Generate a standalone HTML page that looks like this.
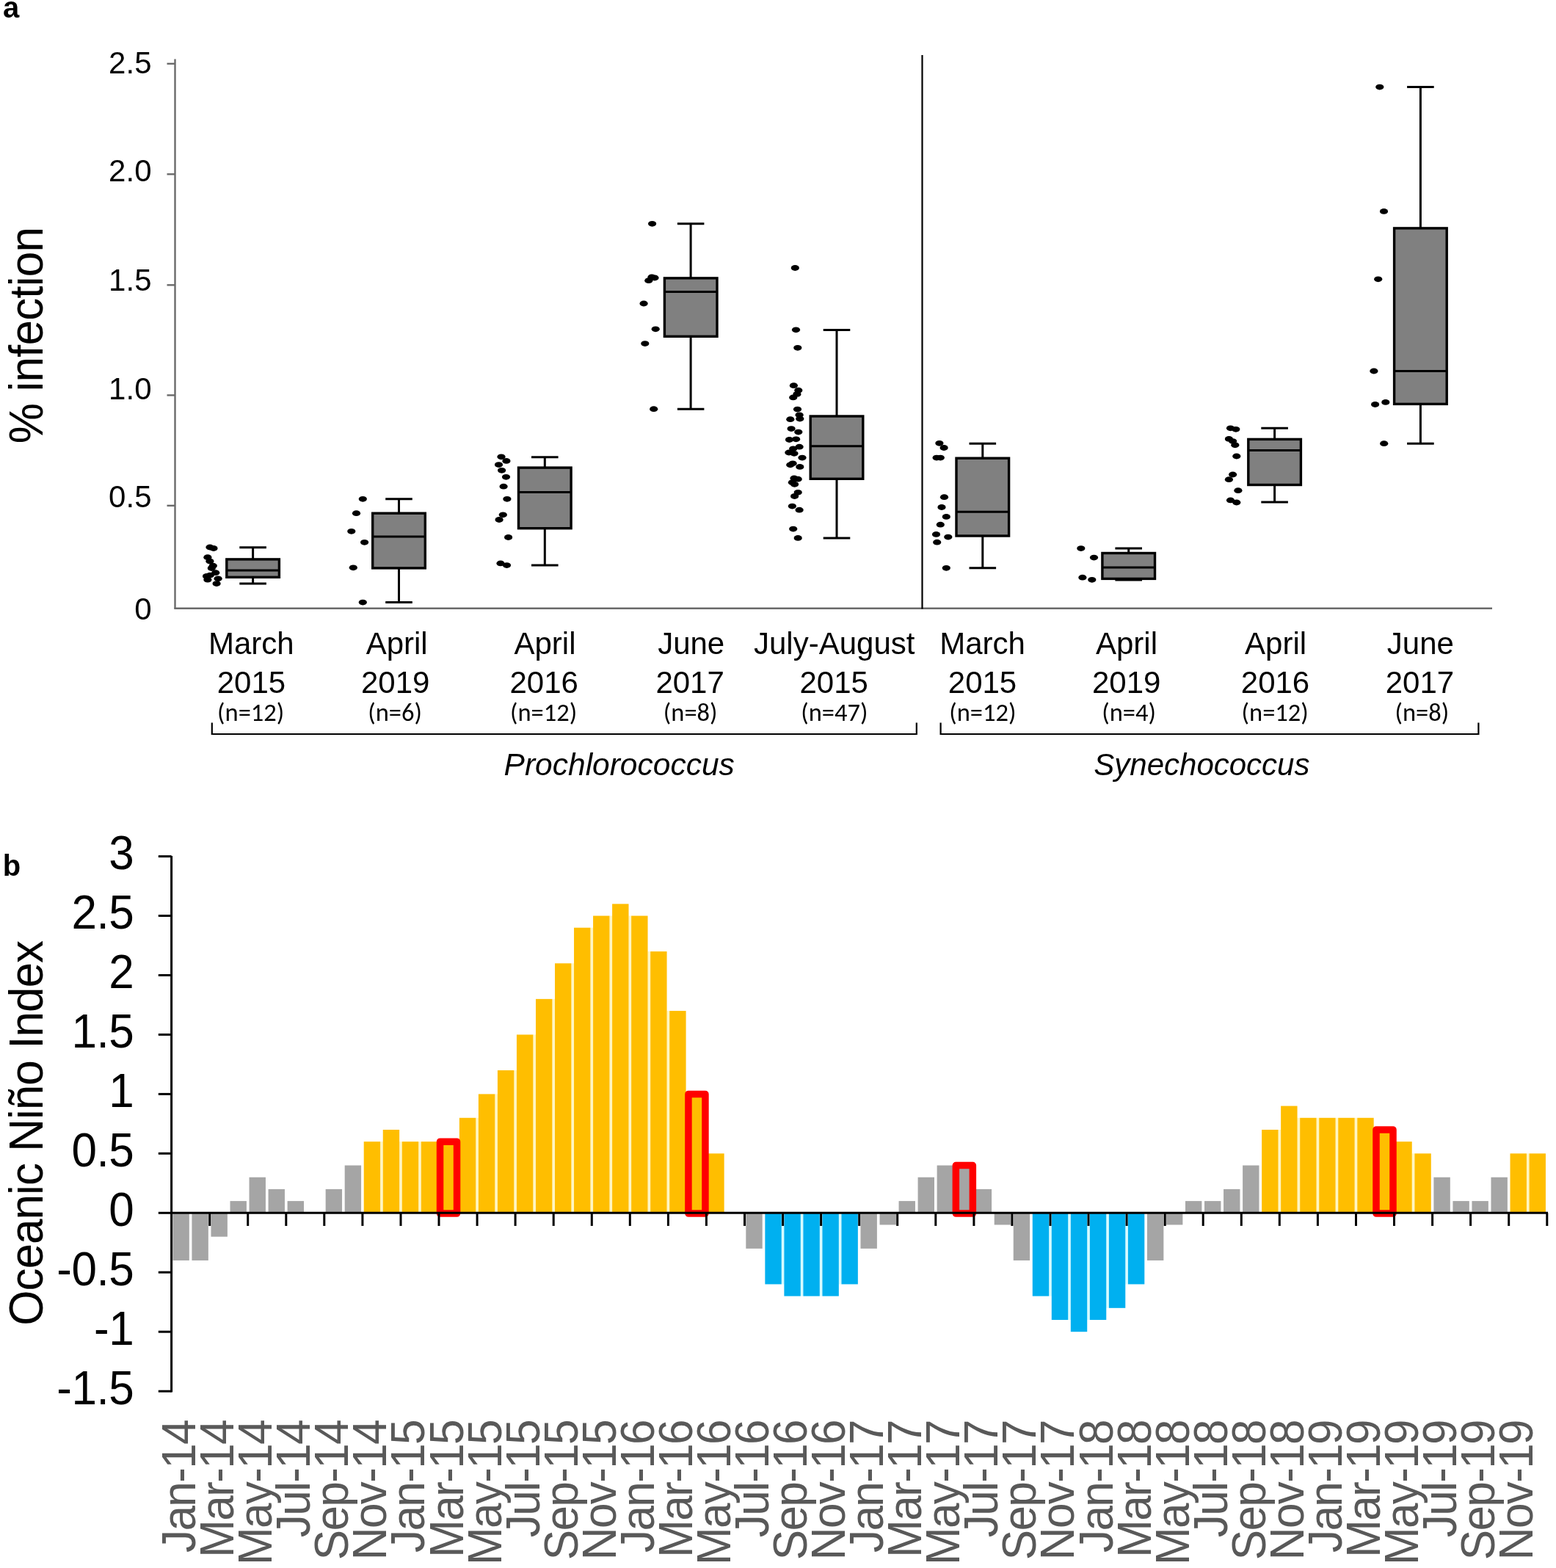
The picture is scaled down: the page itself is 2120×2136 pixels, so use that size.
<!DOCTYPE html>
<html><head><meta charset="utf-8"><title>Figure</title>
<style>html,body{margin:0;padding:0;background:#fff;}svg{display:block;}</style></head>
<body><svg width="2120" height="2136" viewBox="0 0 2120 2136">
<rect width="2120" height="2136" fill="#fff"/>
<text x="4.0" y="24.0" font-family="'Liberation Sans',Arial,sans-serif" font-size="40" text-anchor="start" fill="#000" font-weight="bold">a</text>
<line x1="238.5" y1="80.5" x2="238.5" y2="829.5" stroke="#6a6a6a" stroke-width="2.4"/>
<line x1="227.5" y1="86.8" x2="238.5" y2="86.8" stroke="#6a6a6a" stroke-width="2.4"/>
<line x1="227.5" y1="237.3" x2="238.5" y2="237.3" stroke="#6a6a6a" stroke-width="2.4"/>
<line x1="227.5" y1="388.3" x2="238.5" y2="388.3" stroke="#6a6a6a" stroke-width="2.4"/>
<line x1="227.5" y1="538.4" x2="238.5" y2="538.4" stroke="#6a6a6a" stroke-width="2.4"/>
<line x1="227.5" y1="688.8" x2="238.5" y2="688.8" stroke="#6a6a6a" stroke-width="2.4"/>
<line x1="237.4" y1="828.8" x2="2033" y2="828.8" stroke="#6a6a6a" stroke-width="2.4"/>
<line x1="1256.5" y1="75" x2="1256.5" y2="829.5" stroke="#000" stroke-width="2.2"/>
<text x="206.5" y="100.0" font-family="'Liberation Sans',Arial,sans-serif" font-size="42" text-anchor="end" fill="#000">2.5</text>
<text x="206.5" y="247.0" font-family="'Liberation Sans',Arial,sans-serif" font-size="42" text-anchor="end" fill="#000">2.0</text>
<text x="206.5" y="396.0" font-family="'Liberation Sans',Arial,sans-serif" font-size="42" text-anchor="end" fill="#000">1.5</text>
<text x="206.5" y="544.0" font-family="'Liberation Sans',Arial,sans-serif" font-size="42" text-anchor="end" fill="#000">1.0</text>
<text x="206.5" y="691.0" font-family="'Liberation Sans',Arial,sans-serif" font-size="42" text-anchor="end" fill="#000">0.5</text>
<text x="206.5" y="844.0" font-family="'Liberation Sans',Arial,sans-serif" font-size="42" text-anchor="end" fill="#000">0</text>
<text transform="translate(57.90,457.10) rotate(-90) scale(1,1.05)" font-family="'Liberation Sans',Arial,sans-serif" font-size="62" text-anchor="middle" fill="#000" letter-spacing="-0.8">% infection</text>
<line x1="344.6" y1="745.7" x2="344.6" y2="761.9" stroke="#000" stroke-width="3"/>
<line x1="344.6" y1="786.3" x2="344.6" y2="795.1" stroke="#000" stroke-width="3"/>
<line x1="326.3" y1="745.7" x2="362.9" y2="745.7" stroke="#000" stroke-width="3"/>
<line x1="326.3" y1="795.1" x2="362.9" y2="795.1" stroke="#000" stroke-width="3"/>
<rect x="308.8" y="761.9" width="71.6" height="24.4" fill="#808080" stroke="#000" stroke-width="3.4"/>
<line x1="308.8" y1="777.1" x2="380.4" y2="777.1" stroke="#000" stroke-width="3"/>
<line x1="543.5" y1="679.8" x2="543.5" y2="699.2" stroke="#000" stroke-width="3"/>
<line x1="543.5" y1="773.9" x2="543.5" y2="820.6" stroke="#000" stroke-width="3"/>
<line x1="525.2" y1="679.8" x2="561.8" y2="679.8" stroke="#000" stroke-width="3"/>
<line x1="525.2" y1="820.6" x2="561.8" y2="820.6" stroke="#000" stroke-width="3"/>
<rect x="507.7" y="699.2" width="71.6" height="74.7" fill="#808080" stroke="#000" stroke-width="3.4"/>
<line x1="507.7" y1="731.1" x2="579.2" y2="731.1" stroke="#000" stroke-width="3"/>
<line x1="742.3" y1="622.7" x2="742.3" y2="637.1" stroke="#000" stroke-width="3"/>
<line x1="742.3" y1="719.7" x2="742.3" y2="770.1" stroke="#000" stroke-width="3"/>
<line x1="724.0" y1="622.7" x2="760.6" y2="622.7" stroke="#000" stroke-width="3"/>
<line x1="724.0" y1="770.1" x2="760.6" y2="770.1" stroke="#000" stroke-width="3"/>
<rect x="706.5" y="637.1" width="71.6" height="82.6" fill="#808080" stroke="#000" stroke-width="3.4"/>
<line x1="706.5" y1="670.6" x2="778.1" y2="670.6" stroke="#000" stroke-width="3"/>
<line x1="941.1" y1="304.8" x2="941.1" y2="378.9" stroke="#000" stroke-width="3"/>
<line x1="941.1" y1="458.3" x2="941.1" y2="557.2" stroke="#000" stroke-width="3"/>
<line x1="922.9" y1="304.8" x2="959.4" y2="304.8" stroke="#000" stroke-width="3"/>
<line x1="922.9" y1="557.2" x2="959.4" y2="557.2" stroke="#000" stroke-width="3"/>
<rect x="905.4" y="378.9" width="71.6" height="79.4" fill="#808080" stroke="#000" stroke-width="3.4"/>
<line x1="905.4" y1="397.6" x2="976.9" y2="397.6" stroke="#000" stroke-width="3"/>
<line x1="1140.0" y1="449.5" x2="1140.0" y2="567.0" stroke="#000" stroke-width="3"/>
<line x1="1140.0" y1="652.3" x2="1140.0" y2="732.9" stroke="#000" stroke-width="3"/>
<line x1="1121.7" y1="449.5" x2="1158.3" y2="449.5" stroke="#000" stroke-width="3"/>
<line x1="1121.7" y1="732.9" x2="1158.3" y2="732.9" stroke="#000" stroke-width="3"/>
<rect x="1104.2" y="567.0" width="71.6" height="85.3" fill="#808080" stroke="#000" stroke-width="3.4"/>
<line x1="1104.2" y1="607.7" x2="1175.8" y2="607.7" stroke="#000" stroke-width="3"/>
<line x1="1338.8" y1="604.2" x2="1338.8" y2="624.2" stroke="#000" stroke-width="3"/>
<line x1="1338.8" y1="730.0" x2="1338.8" y2="773.8" stroke="#000" stroke-width="3"/>
<line x1="1320.5" y1="604.2" x2="1357.1" y2="604.2" stroke="#000" stroke-width="3"/>
<line x1="1320.5" y1="773.8" x2="1357.1" y2="773.8" stroke="#000" stroke-width="3"/>
<rect x="1303.0" y="624.2" width="71.6" height="105.8" fill="#808080" stroke="#000" stroke-width="3.4"/>
<line x1="1303.0" y1="697.2" x2="1374.6" y2="697.2" stroke="#000" stroke-width="3"/>
<line x1="1537.7" y1="747.1" x2="1537.7" y2="753.5" stroke="#000" stroke-width="3"/>
<line x1="1537.7" y1="788.4" x2="1537.7" y2="790.0" stroke="#000" stroke-width="3"/>
<line x1="1519.4" y1="747.1" x2="1556.0" y2="747.1" stroke="#000" stroke-width="3"/>
<line x1="1519.4" y1="790.0" x2="1556.0" y2="790.0" stroke="#000" stroke-width="3"/>
<rect x="1501.9" y="753.5" width="71.6" height="34.9" fill="#808080" stroke="#000" stroke-width="3.4"/>
<line x1="1501.9" y1="773.1" x2="1573.5" y2="773.1" stroke="#000" stroke-width="3"/>
<line x1="1736.6" y1="583.3" x2="1736.6" y2="598.4" stroke="#000" stroke-width="3"/>
<line x1="1736.6" y1="660.5" x2="1736.6" y2="684.1" stroke="#000" stroke-width="3"/>
<line x1="1718.3" y1="583.3" x2="1754.9" y2="583.3" stroke="#000" stroke-width="3"/>
<line x1="1718.3" y1="684.1" x2="1754.9" y2="684.1" stroke="#000" stroke-width="3"/>
<rect x="1700.8" y="598.4" width="71.6" height="62.1" fill="#808080" stroke="#000" stroke-width="3.4"/>
<line x1="1700.8" y1="613.6" x2="1772.4" y2="613.6" stroke="#000" stroke-width="3"/>
<line x1="1935.4" y1="118.6" x2="1935.4" y2="310.9" stroke="#000" stroke-width="3"/>
<line x1="1935.4" y1="550.4" x2="1935.4" y2="604.2" stroke="#000" stroke-width="3"/>
<line x1="1917.1" y1="118.6" x2="1953.7" y2="118.6" stroke="#000" stroke-width="3"/>
<line x1="1917.1" y1="604.2" x2="1953.7" y2="604.2" stroke="#000" stroke-width="3"/>
<rect x="1899.6" y="310.9" width="71.6" height="239.5" fill="#808080" stroke="#000" stroke-width="3.4"/>
<line x1="1899.6" y1="505.5" x2="1971.2" y2="505.5" stroke="#000" stroke-width="3"/>
<ellipse cx="286" cy="745.5" rx="5.6" ry="3.9"/>
<ellipse cx="291" cy="747" rx="5.6" ry="3.9"/>
<ellipse cx="282.9" cy="759.2" rx="5.6" ry="3.9"/>
<ellipse cx="285.9" cy="764.6" rx="5.6" ry="3.9"/>
<ellipse cx="290.3" cy="770.7" rx="5.6" ry="3.9"/>
<ellipse cx="288.3" cy="774" rx="5.6" ry="3.9"/>
<ellipse cx="293.7" cy="780.2" rx="5.6" ry="3.9"/>
<ellipse cx="286.3" cy="783.6" rx="5.6" ry="3.9"/>
<ellipse cx="281.5" cy="785" rx="5.6" ry="3.9"/>
<ellipse cx="282.9" cy="789.7" rx="5.6" ry="3.9"/>
<ellipse cx="297.1" cy="788.3" rx="5.6" ry="3.9"/>
<ellipse cx="295.1" cy="795.1" rx="5.6" ry="3.9"/>
<ellipse cx="494.3" cy="679.8" rx="5.6" ry="3.9"/>
<ellipse cx="485.5" cy="699.2" rx="5.6" ry="3.9"/>
<ellipse cx="478.8" cy="723.8" rx="5.6" ry="3.9"/>
<ellipse cx="496.6" cy="738.8" rx="5.6" ry="3.9"/>
<ellipse cx="481.3" cy="773.3" rx="5.6" ry="3.9"/>
<ellipse cx="494.3" cy="820.6" rx="5.6" ry="3.9"/>
<ellipse cx="683" cy="622.3" rx="5.6" ry="3.9"/>
<ellipse cx="689.9" cy="627.9" rx="5.6" ry="3.9"/>
<ellipse cx="679.5" cy="633.1" rx="5.6" ry="3.9"/>
<ellipse cx="683.6" cy="640.8" rx="5.6" ry="3.9"/>
<ellipse cx="689.5" cy="649.8" rx="5.6" ry="3.9"/>
<ellipse cx="686.1" cy="662.7" rx="5.6" ry="3.9"/>
<ellipse cx="690.9" cy="679.8" rx="5.6" ry="3.9"/>
<ellipse cx="685.3" cy="701.3" rx="5.6" ry="3.9"/>
<ellipse cx="680.1" cy="708" rx="5.6" ry="3.9"/>
<ellipse cx="692.6" cy="732" rx="5.6" ry="3.9"/>
<ellipse cx="682" cy="767.4" rx="5.6" ry="3.9"/>
<ellipse cx="690.5" cy="770.1" rx="5.6" ry="3.9"/>
<ellipse cx="888.6" cy="304.8" rx="5.6" ry="3.9"/>
<ellipse cx="888" cy="377.5" rx="5.6" ry="3.9"/>
<ellipse cx="892" cy="378.5" rx="5.6" ry="3.9"/>
<ellipse cx="883.8" cy="382.2" rx="5.6" ry="3.9"/>
<ellipse cx="877.1" cy="413.5" rx="5.6" ry="3.9"/>
<ellipse cx="893.2" cy="448.3" rx="5.6" ry="3.9"/>
<ellipse cx="878.8" cy="468.1" rx="5.6" ry="3.9"/>
<ellipse cx="890.7" cy="557.2" rx="5.6" ry="3.9"/>
<ellipse cx="1083.3" cy="365" rx="5.6" ry="3.9"/>
<ellipse cx="1084.5" cy="449.3" rx="5.6" ry="3.9"/>
<ellipse cx="1086.8" cy="473.8" rx="5.6" ry="3.9"/>
<ellipse cx="1081.4" cy="525.2" rx="5.6" ry="3.9"/>
<ellipse cx="1087.8" cy="531.7" rx="5.6" ry="3.9"/>
<ellipse cx="1085.9" cy="536.9" rx="5.6" ry="3.9"/>
<ellipse cx="1080.7" cy="541.4" rx="5.6" ry="3.9"/>
<ellipse cx="1086.5" cy="557.6" rx="5.6" ry="3.9"/>
<ellipse cx="1089.1" cy="565.3" rx="5.6" ry="3.9"/>
<ellipse cx="1076.8" cy="571.2" rx="5.6" ry="3.9"/>
<ellipse cx="1089.8" cy="570.5" rx="5.6" ry="3.9"/>
<ellipse cx="1078.1" cy="584.1" rx="5.6" ry="3.9"/>
<ellipse cx="1087.8" cy="588.6" rx="5.6" ry="3.9"/>
<ellipse cx="1075.5" cy="599" rx="5.6" ry="3.9"/>
<ellipse cx="1084.6" cy="598.3" rx="5.6" ry="3.9"/>
<ellipse cx="1089.1" cy="608.7" rx="5.6" ry="3.9"/>
<ellipse cx="1080.7" cy="611.3" rx="5.6" ry="3.9"/>
<ellipse cx="1074.9" cy="616.5" rx="5.6" ry="3.9"/>
<ellipse cx="1082" cy="617.8" rx="5.6" ry="3.9"/>
<ellipse cx="1093" cy="623.6" rx="5.6" ry="3.9"/>
<ellipse cx="1076.8" cy="633.3" rx="5.6" ry="3.9"/>
<ellipse cx="1080.1" cy="631.3" rx="5.6" ry="3.9"/>
<ellipse cx="1089.8" cy="635.9" rx="5.6" ry="3.9"/>
<ellipse cx="1082" cy="651.4" rx="5.6" ry="3.9"/>
<ellipse cx="1087.2" cy="652.7" rx="5.6" ry="3.9"/>
<ellipse cx="1079.4" cy="657.2" rx="5.6" ry="3.9"/>
<ellipse cx="1082.6" cy="659.8" rx="5.6" ry="3.9"/>
<ellipse cx="1087.2" cy="670.8" rx="5.6" ry="3.9"/>
<ellipse cx="1082.6" cy="676" rx="5.6" ry="3.9"/>
<ellipse cx="1079.4" cy="689.6" rx="5.6" ry="3.9"/>
<ellipse cx="1089.1" cy="694.7" rx="5.6" ry="3.9"/>
<ellipse cx="1080.7" cy="720.6" rx="5.6" ry="3.9"/>
<ellipse cx="1087.2" cy="732.9" rx="5.6" ry="3.9"/>
<ellipse cx="1279.9" cy="603.8" rx="5.6" ry="3.9"/>
<ellipse cx="1286.1" cy="610" rx="5.6" ry="3.9"/>
<ellipse cx="1276.1" cy="623.6" rx="5.6" ry="3.9"/>
<ellipse cx="1281.3" cy="623.6" rx="5.6" ry="3.9"/>
<ellipse cx="1286.5" cy="677.2" rx="5.6" ry="3.9"/>
<ellipse cx="1283" cy="691" rx="5.6" ry="3.9"/>
<ellipse cx="1289.3" cy="703.9" rx="5.6" ry="3.9"/>
<ellipse cx="1281.3" cy="714.7" rx="5.6" ry="3.9"/>
<ellipse cx="1275.5" cy="727.9" rx="5.6" ry="3.9"/>
<ellipse cx="1291.8" cy="731.6" rx="5.6" ry="3.9"/>
<ellipse cx="1276.7" cy="738.7" rx="5.6" ry="3.9"/>
<ellipse cx="1289.3" cy="773.8" rx="5.6" ry="3.9"/>
<ellipse cx="1472.8" cy="747.1" rx="5.6" ry="3.9"/>
<ellipse cx="1490.5" cy="759.6" rx="5.6" ry="3.9"/>
<ellipse cx="1474.9" cy="786.7" rx="5.6" ry="3.9"/>
<ellipse cx="1487.8" cy="789.8" rx="5.6" ry="3.9"/>
<ellipse cx="1676.5" cy="583.3" rx="5.6" ry="3.9"/>
<ellipse cx="1683.8" cy="584.8" rx="5.6" ry="3.9"/>
<ellipse cx="1674.4" cy="597.9" rx="5.6" ry="3.9"/>
<ellipse cx="1679.6" cy="601.1" rx="5.6" ry="3.9"/>
<ellipse cx="1682.8" cy="606.3" rx="5.6" ry="3.9"/>
<ellipse cx="1684.8" cy="621.5" rx="5.6" ry="3.9"/>
<ellipse cx="1679.6" cy="646.5" rx="5.6" ry="3.9"/>
<ellipse cx="1674.4" cy="653.2" rx="5.6" ry="3.9"/>
<ellipse cx="1686.9" cy="668.2" rx="5.6" ry="3.9"/>
<ellipse cx="1676.5" cy="681.4" rx="5.6" ry="3.9"/>
<ellipse cx="1684.8" cy="684.5" rx="5.6" ry="3.9"/>
<ellipse cx="1879.8" cy="118.6" rx="5.6" ry="3.9"/>
<ellipse cx="1885.5" cy="287.9" rx="5.6" ry="3.9"/>
<ellipse cx="1877.7" cy="380.3" rx="5.6" ry="3.9"/>
<ellipse cx="1871.9" cy="505.5" rx="5.6" ry="3.9"/>
<ellipse cx="1873.6" cy="551" rx="5.6" ry="3.9"/>
<ellipse cx="1887.8" cy="547.9" rx="5.6" ry="3.9"/>
<ellipse cx="1885.7" cy="604.2" rx="5.6" ry="3.9"/>
<text x="342.3" y="891.0" font-family="'Liberation Sans',Arial,sans-serif" font-size="42" text-anchor="middle" fill="#000">March</text>
<text x="342.4" y="944.3" font-family="'Liberation Sans',Arial,sans-serif" font-size="42" text-anchor="middle" fill="#000">2015</text>
<text x="341.7" y="981.7" font-family="Carlito,Calibri,'Liberation Sans',sans-serif" font-size="34.5" text-anchor="middle" fill="#000" textLength="91.22" lengthAdjust="spacingAndGlyphs">(n=12)</text>
<text x="540.7" y="891.0" font-family="'Liberation Sans',Arial,sans-serif" font-size="42" text-anchor="middle" fill="#000">April</text>
<text x="538.7" y="944.3" font-family="'Liberation Sans',Arial,sans-serif" font-size="42" text-anchor="middle" fill="#000">2019</text>
<text x="538.1" y="981.7" font-family="Carlito,Calibri,'Liberation Sans',sans-serif" font-size="34.5" text-anchor="middle" fill="#000" textLength="73.73" lengthAdjust="spacingAndGlyphs">(n=6)</text>
<text x="742.5" y="891.0" font-family="'Liberation Sans',Arial,sans-serif" font-size="42" text-anchor="middle" fill="#000">April</text>
<text x="741.2" y="944.3" font-family="'Liberation Sans',Arial,sans-serif" font-size="42" text-anchor="middle" fill="#000">2016</text>
<text x="740.6" y="981.7" font-family="Carlito,Calibri,'Liberation Sans',sans-serif" font-size="34.5" text-anchor="middle" fill="#000" textLength="91.22" lengthAdjust="spacingAndGlyphs">(n=12)</text>
<text x="941.7" y="891.0" font-family="'Liberation Sans',Arial,sans-serif" font-size="42" text-anchor="middle" fill="#000">June</text>
<text x="940.1" y="944.3" font-family="'Liberation Sans',Arial,sans-serif" font-size="42" text-anchor="middle" fill="#000">2017</text>
<text x="940.7" y="981.7" font-family="Carlito,Calibri,'Liberation Sans',sans-serif" font-size="34.5" text-anchor="middle" fill="#000" textLength="73.73" lengthAdjust="spacingAndGlyphs">(n=8)</text>
<text x="1136.7" y="891.0" font-family="'Liberation Sans',Arial,sans-serif" font-size="42" text-anchor="middle" fill="#000">July-August</text>
<text x="1136.2" y="944.3" font-family="'Liberation Sans',Arial,sans-serif" font-size="42" text-anchor="middle" fill="#000">2015</text>
<text x="1136.8" y="981.7" font-family="Carlito,Calibri,'Liberation Sans',sans-serif" font-size="34.5" text-anchor="middle" fill="#000" textLength="91.22" lengthAdjust="spacingAndGlyphs">(n=47)</text>
<text x="1338.5" y="891.0" font-family="'Liberation Sans',Arial,sans-serif" font-size="42" text-anchor="middle" fill="#000">March</text>
<text x="1338.5" y="944.3" font-family="'Liberation Sans',Arial,sans-serif" font-size="42" text-anchor="middle" fill="#000">2015</text>
<text x="1338.9" y="981.7" font-family="Carlito,Calibri,'Liberation Sans',sans-serif" font-size="34.5" text-anchor="middle" fill="#000" textLength="91.22" lengthAdjust="spacingAndGlyphs">(n=12)</text>
<text x="1535.0" y="891.0" font-family="'Liberation Sans',Arial,sans-serif" font-size="42" text-anchor="middle" fill="#000">April</text>
<text x="1534.7" y="944.3" font-family="'Liberation Sans',Arial,sans-serif" font-size="42" text-anchor="middle" fill="#000">2019</text>
<text x="1538.1" y="981.7" font-family="Carlito,Calibri,'Liberation Sans',sans-serif" font-size="34.5" text-anchor="middle" fill="#000" textLength="73.73" lengthAdjust="spacingAndGlyphs">(n=4)</text>
<text x="1738.1" y="891.0" font-family="'Liberation Sans',Arial,sans-serif" font-size="42" text-anchor="middle" fill="#000">April</text>
<text x="1737.5" y="944.3" font-family="'Liberation Sans',Arial,sans-serif" font-size="42" text-anchor="middle" fill="#000">2016</text>
<text x="1737.2" y="981.7" font-family="Carlito,Calibri,'Liberation Sans',sans-serif" font-size="34.5" text-anchor="middle" fill="#000" textLength="91.22" lengthAdjust="spacingAndGlyphs">(n=12)</text>
<text x="1935.4" y="891.0" font-family="'Liberation Sans',Arial,sans-serif" font-size="42" text-anchor="middle" fill="#000">June</text>
<text x="1934.4" y="944.3" font-family="'Liberation Sans',Arial,sans-serif" font-size="42" text-anchor="middle" fill="#000">2017</text>
<text x="1937.3" y="981.7" font-family="Carlito,Calibri,'Liberation Sans',sans-serif" font-size="34.5" text-anchor="middle" fill="#000" textLength="73.73" lengthAdjust="spacingAndGlyphs">(n=8)</text>
<path d="M288.8,984.5 V1000 H1248.8 V984.5" fill="none" stroke="#000" stroke-width="2.2"/>
<path d="M1281.6,984.5 V1000 H2014.4 V984.5" fill="none" stroke="#000" stroke-width="2.2"/>
<text x="843.7" y="1056.4" font-family="'Liberation Sans',Arial,sans-serif" font-size="42.5" text-anchor="middle" fill="#000" font-style="italic">Prochlorococcus</text>
<text x="1637.4" y="1056.4" font-family="'Liberation Sans',Arial,sans-serif" font-size="42" text-anchor="middle" fill="#000" font-style="italic">Synechococcus</text>
<text x="3.8" y="1192.7" font-family="'Liberation Sans',Arial,sans-serif" font-size="40" text-anchor="start" fill="#000" font-weight="bold">b</text>
<rect x="518.12" y="1555.16" width="3.63" height="97.14" fill="#FFF6C2"/>
<rect x="544.15" y="1555.16" width="3.63" height="97.14" fill="#FFF6C2"/>
<rect x="570.18" y="1555.16" width="3.63" height="97.14" fill="#FFF6C2"/>
<rect x="596.21" y="1555.16" width="3.63" height="97.14" fill="#FFF6C2"/>
<rect x="622.24" y="1555.16" width="3.63" height="97.14" fill="#FFF6C2"/>
<rect x="648.27" y="1522.78" width="3.63" height="129.52" fill="#FFF6C2"/>
<rect x="674.30" y="1490.40" width="3.63" height="161.90" fill="#FFF6C2"/>
<rect x="700.33" y="1458.02" width="3.63" height="194.28" fill="#FFF6C2"/>
<rect x="726.36" y="1409.45" width="3.63" height="242.85" fill="#FFF6C2"/>
<rect x="752.39" y="1360.88" width="3.63" height="291.42" fill="#FFF6C2"/>
<rect x="778.42" y="1312.31" width="3.63" height="339.99" fill="#FFF6C2"/>
<rect x="804.45" y="1263.74" width="3.63" height="388.56" fill="#FFF6C2"/>
<rect x="830.48" y="1247.55" width="3.63" height="404.75" fill="#FFF6C2"/>
<rect x="856.51" y="1247.55" width="3.63" height="404.75" fill="#FFF6C2"/>
<rect x="882.54" y="1296.12" width="3.63" height="356.18" fill="#FFF6C2"/>
<rect x="908.57" y="1377.07" width="3.63" height="275.23" fill="#FFF6C2"/>
<rect x="934.60" y="1490.40" width="3.63" height="161.90" fill="#FFF6C2"/>
<rect x="960.63" y="1571.35" width="3.63" height="80.95" fill="#FFF6C2"/>
<rect x="1064.75" y="1652.30" width="3.63" height="97.14" fill="#D6FBFF"/>
<rect x="1090.78" y="1652.30" width="3.63" height="113.33" fill="#D6FBFF"/>
<rect x="1116.81" y="1652.30" width="3.63" height="113.33" fill="#D6FBFF"/>
<rect x="1142.84" y="1652.30" width="3.63" height="97.14" fill="#D6FBFF"/>
<rect x="1429.16" y="1652.30" width="3.63" height="113.33" fill="#D6FBFF"/>
<rect x="1455.19" y="1652.30" width="3.63" height="145.71" fill="#D6FBFF"/>
<rect x="1481.22" y="1652.30" width="3.63" height="145.71" fill="#D6FBFF"/>
<rect x="1507.26" y="1652.30" width="3.63" height="129.52" fill="#D6FBFF"/>
<rect x="1533.29" y="1652.30" width="3.63" height="97.14" fill="#D6FBFF"/>
<rect x="1741.53" y="1538.97" width="3.63" height="113.33" fill="#FFF6C2"/>
<rect x="1767.56" y="1522.78" width="3.63" height="129.52" fill="#FFF6C2"/>
<rect x="1793.59" y="1522.78" width="3.63" height="129.52" fill="#FFF6C2"/>
<rect x="1819.62" y="1522.78" width="3.63" height="129.52" fill="#FFF6C2"/>
<rect x="1845.64" y="1522.78" width="3.63" height="129.52" fill="#FFF6C2"/>
<rect x="1871.67" y="1538.97" width="3.63" height="113.33" fill="#FFF6C2"/>
<rect x="1897.70" y="1555.16" width="3.63" height="97.14" fill="#FFF6C2"/>
<rect x="1923.74" y="1571.35" width="3.63" height="80.95" fill="#FFF6C2"/>
<rect x="2079.91" y="1571.35" width="3.63" height="80.95" fill="#FFF6C2"/>
<rect x="235.42" y="1652.30" width="22.4" height="64.76" fill="#A5A5A5"/>
<rect x="261.44" y="1652.30" width="22.4" height="64.76" fill="#A5A5A5"/>
<rect x="287.48" y="1652.30" width="22.4" height="32.38" fill="#A5A5A5"/>
<rect x="313.50" y="1636.11" width="22.4" height="16.19" fill="#A5A5A5"/>
<rect x="339.54" y="1603.73" width="22.4" height="48.57" fill="#A5A5A5"/>
<rect x="365.56" y="1619.92" width="22.4" height="32.38" fill="#A5A5A5"/>
<rect x="391.59" y="1636.11" width="22.4" height="16.19" fill="#A5A5A5"/>
<rect x="443.66" y="1619.92" width="22.4" height="32.38" fill="#A5A5A5"/>
<rect x="469.69" y="1587.54" width="22.4" height="64.76" fill="#A5A5A5"/>
<rect x="495.71" y="1555.16" width="22.4" height="97.14" fill="#FFBE00"/>
<rect x="521.75" y="1538.97" width="22.4" height="113.33" fill="#FFBE00"/>
<rect x="547.77" y="1555.16" width="22.4" height="97.14" fill="#FFBE00"/>
<rect x="573.80" y="1555.16" width="22.4" height="97.14" fill="#FFBE00"/>
<rect x="599.83" y="1555.16" width="22.4" height="97.14" fill="#FFBE00"/>
<rect x="625.87" y="1522.78" width="22.4" height="129.52" fill="#FFBE00"/>
<rect x="651.89" y="1490.40" width="22.4" height="161.90" fill="#FFBE00"/>
<rect x="677.92" y="1458.02" width="22.4" height="194.28" fill="#FFBE00"/>
<rect x="703.95" y="1409.45" width="22.4" height="242.85" fill="#FFBE00"/>
<rect x="729.99" y="1360.88" width="22.4" height="291.42" fill="#FFBE00"/>
<rect x="756.01" y="1312.31" width="22.4" height="339.99" fill="#FFBE00"/>
<rect x="782.04" y="1263.74" width="22.4" height="388.56" fill="#FFBE00"/>
<rect x="808.08" y="1247.55" width="22.4" height="404.75" fill="#FFBE00"/>
<rect x="834.11" y="1231.36" width="22.4" height="420.94" fill="#FFBE00"/>
<rect x="860.13" y="1247.55" width="22.4" height="404.75" fill="#FFBE00"/>
<rect x="886.16" y="1296.12" width="22.4" height="356.18" fill="#FFBE00"/>
<rect x="912.20" y="1377.07" width="22.4" height="275.23" fill="#FFBE00"/>
<rect x="938.23" y="1490.40" width="22.4" height="161.90" fill="#FFBE00"/>
<rect x="964.25" y="1571.35" width="22.4" height="80.95" fill="#FFBE00"/>
<rect x="1016.32" y="1652.30" width="22.4" height="48.57" fill="#A5A5A5"/>
<rect x="1042.35" y="1652.30" width="22.4" height="97.14" fill="#00B0F0"/>
<rect x="1068.38" y="1652.30" width="22.4" height="113.33" fill="#00B0F0"/>
<rect x="1094.40" y="1652.30" width="22.4" height="113.33" fill="#00B0F0"/>
<rect x="1120.43" y="1652.30" width="22.4" height="113.33" fill="#00B0F0"/>
<rect x="1146.46" y="1652.30" width="22.4" height="97.14" fill="#00B0F0"/>
<rect x="1172.49" y="1652.30" width="22.4" height="48.57" fill="#A5A5A5"/>
<rect x="1198.52" y="1652.30" width="22.4" height="16.19" fill="#A5A5A5"/>
<rect x="1224.56" y="1636.11" width="22.4" height="16.19" fill="#A5A5A5"/>
<rect x="1250.58" y="1603.73" width="22.4" height="48.57" fill="#A5A5A5"/>
<rect x="1276.62" y="1587.54" width="22.4" height="64.76" fill="#A5A5A5"/>
<rect x="1302.64" y="1587.54" width="22.4" height="64.76" fill="#A5A5A5"/>
<rect x="1328.67" y="1619.92" width="22.4" height="32.38" fill="#A5A5A5"/>
<rect x="1354.70" y="1652.30" width="22.4" height="16.19" fill="#A5A5A5"/>
<rect x="1380.73" y="1652.30" width="22.4" height="64.76" fill="#A5A5A5"/>
<rect x="1406.76" y="1652.30" width="22.4" height="113.33" fill="#00B0F0"/>
<rect x="1432.79" y="1652.30" width="22.4" height="145.71" fill="#00B0F0"/>
<rect x="1458.82" y="1652.30" width="22.4" height="161.90" fill="#00B0F0"/>
<rect x="1484.86" y="1652.30" width="22.4" height="145.71" fill="#00B0F0"/>
<rect x="1510.88" y="1652.30" width="22.4" height="129.52" fill="#00B0F0"/>
<rect x="1536.91" y="1652.30" width="22.4" height="97.14" fill="#00B0F0"/>
<rect x="1562.94" y="1652.30" width="22.4" height="64.76" fill="#A5A5A5"/>
<rect x="1588.97" y="1652.30" width="22.4" height="16.19" fill="#A5A5A5"/>
<rect x="1615.00" y="1636.11" width="22.4" height="16.19" fill="#A5A5A5"/>
<rect x="1641.03" y="1636.11" width="22.4" height="16.19" fill="#A5A5A5"/>
<rect x="1667.06" y="1619.92" width="22.4" height="32.38" fill="#A5A5A5"/>
<rect x="1693.10" y="1587.54" width="22.4" height="64.76" fill="#A5A5A5"/>
<rect x="1719.12" y="1538.97" width="22.4" height="113.33" fill="#FFBE00"/>
<rect x="1745.15" y="1506.59" width="22.4" height="145.71" fill="#FFBE00"/>
<rect x="1771.18" y="1522.78" width="22.4" height="129.52" fill="#FFBE00"/>
<rect x="1797.21" y="1522.78" width="22.4" height="129.52" fill="#FFBE00"/>
<rect x="1823.24" y="1522.78" width="22.4" height="129.52" fill="#FFBE00"/>
<rect x="1849.27" y="1522.78" width="22.4" height="129.52" fill="#FFBE00"/>
<rect x="1875.30" y="1538.97" width="22.4" height="113.33" fill="#FFBE00"/>
<rect x="1901.34" y="1555.16" width="22.4" height="97.14" fill="#FFBE00"/>
<rect x="1927.37" y="1571.35" width="22.4" height="80.95" fill="#FFBE00"/>
<rect x="1953.39" y="1603.73" width="22.4" height="48.57" fill="#A5A5A5"/>
<rect x="1979.42" y="1636.11" width="22.4" height="16.19" fill="#A5A5A5"/>
<rect x="2005.45" y="1636.11" width="22.4" height="16.19" fill="#A5A5A5"/>
<rect x="2031.48" y="1603.73" width="22.4" height="48.57" fill="#A5A5A5"/>
<rect x="2057.52" y="1571.35" width="22.4" height="80.95" fill="#FFBE00"/>
<rect x="2083.55" y="1571.35" width="22.4" height="80.95" fill="#FFBE00"/>
<rect x="599.53" y="1555.16" width="23.0" height="97.94" fill="none" stroke="#FF0000" stroke-width="9.5" stroke-linejoin="round"/>
<rect x="937.93" y="1490.40" width="23.0" height="162.70" fill="none" stroke="#FF0000" stroke-width="9.5" stroke-linejoin="round"/>
<rect x="1302.35" y="1587.54" width="23.0" height="65.56" fill="none" stroke="#FF0000" stroke-width="9.5" stroke-linejoin="round"/>
<rect x="1875.00" y="1538.97" width="23.0" height="114.13" fill="none" stroke="#FF0000" stroke-width="9.5" stroke-linejoin="round"/>
<line x1="233.6" y1="1166" x2="233.6" y2="1896.5" stroke="#000" stroke-width="3"/>
<line x1="215.8" y1="1166.6" x2="233.6" y2="1166.6" stroke="#000" stroke-width="3"/>
<line x1="215.8" y1="1247.5" x2="233.6" y2="1247.5" stroke="#000" stroke-width="3"/>
<line x1="215.8" y1="1328.5" x2="233.6" y2="1328.5" stroke="#000" stroke-width="3"/>
<line x1="215.8" y1="1409.4" x2="233.6" y2="1409.4" stroke="#000" stroke-width="3"/>
<line x1="215.8" y1="1490.4" x2="233.6" y2="1490.4" stroke="#000" stroke-width="3"/>
<line x1="215.8" y1="1571.3" x2="233.6" y2="1571.3" stroke="#000" stroke-width="3"/>
<line x1="215.8" y1="1652.3" x2="233.6" y2="1652.3" stroke="#000" stroke-width="3"/>
<line x1="215.8" y1="1733.2" x2="233.6" y2="1733.2" stroke="#000" stroke-width="3"/>
<line x1="215.8" y1="1814.2" x2="233.6" y2="1814.2" stroke="#000" stroke-width="3"/>
<line x1="215.8" y1="1895.2" x2="233.6" y2="1895.2" stroke="#000" stroke-width="3"/>
<line x1="233.6" y1="1652.3" x2="2109" y2="1652.3" stroke="#000" stroke-width="3"/>
<line x1="285.7" y1="1652.3" x2="285.7" y2="1670" stroke="#000" stroke-width="3"/>
<line x1="337.7" y1="1652.3" x2="337.7" y2="1670" stroke="#000" stroke-width="3"/>
<line x1="389.8" y1="1652.3" x2="389.8" y2="1670" stroke="#000" stroke-width="3"/>
<line x1="441.8" y1="1652.3" x2="441.8" y2="1670" stroke="#000" stroke-width="3"/>
<line x1="493.9" y1="1652.3" x2="493.9" y2="1670" stroke="#000" stroke-width="3"/>
<line x1="546.0" y1="1652.3" x2="546.0" y2="1670" stroke="#000" stroke-width="3"/>
<line x1="598.0" y1="1652.3" x2="598.0" y2="1670" stroke="#000" stroke-width="3"/>
<line x1="650.1" y1="1652.3" x2="650.1" y2="1670" stroke="#000" stroke-width="3"/>
<line x1="702.1" y1="1652.3" x2="702.1" y2="1670" stroke="#000" stroke-width="3"/>
<line x1="754.2" y1="1652.3" x2="754.2" y2="1670" stroke="#000" stroke-width="3"/>
<line x1="806.3" y1="1652.3" x2="806.3" y2="1670" stroke="#000" stroke-width="3"/>
<line x1="858.3" y1="1652.3" x2="858.3" y2="1670" stroke="#000" stroke-width="3"/>
<line x1="910.4" y1="1652.3" x2="910.4" y2="1670" stroke="#000" stroke-width="3"/>
<line x1="962.4" y1="1652.3" x2="962.4" y2="1670" stroke="#000" stroke-width="3"/>
<line x1="1014.5" y1="1652.3" x2="1014.5" y2="1670" stroke="#000" stroke-width="3"/>
<line x1="1066.6" y1="1652.3" x2="1066.6" y2="1670" stroke="#000" stroke-width="3"/>
<line x1="1118.6" y1="1652.3" x2="1118.6" y2="1670" stroke="#000" stroke-width="3"/>
<line x1="1170.7" y1="1652.3" x2="1170.7" y2="1670" stroke="#000" stroke-width="3"/>
<line x1="1222.7" y1="1652.3" x2="1222.7" y2="1670" stroke="#000" stroke-width="3"/>
<line x1="1274.8" y1="1652.3" x2="1274.8" y2="1670" stroke="#000" stroke-width="3"/>
<line x1="1326.9" y1="1652.3" x2="1326.9" y2="1670" stroke="#000" stroke-width="3"/>
<line x1="1378.9" y1="1652.3" x2="1378.9" y2="1670" stroke="#000" stroke-width="3"/>
<line x1="1431.0" y1="1652.3" x2="1431.0" y2="1670" stroke="#000" stroke-width="3"/>
<line x1="1483.0" y1="1652.3" x2="1483.0" y2="1670" stroke="#000" stroke-width="3"/>
<line x1="1535.1" y1="1652.3" x2="1535.1" y2="1670" stroke="#000" stroke-width="3"/>
<line x1="1587.2" y1="1652.3" x2="1587.2" y2="1670" stroke="#000" stroke-width="3"/>
<line x1="1639.2" y1="1652.3" x2="1639.2" y2="1670" stroke="#000" stroke-width="3"/>
<line x1="1691.3" y1="1652.3" x2="1691.3" y2="1670" stroke="#000" stroke-width="3"/>
<line x1="1743.3" y1="1652.3" x2="1743.3" y2="1670" stroke="#000" stroke-width="3"/>
<line x1="1795.4" y1="1652.3" x2="1795.4" y2="1670" stroke="#000" stroke-width="3"/>
<line x1="1847.5" y1="1652.3" x2="1847.5" y2="1670" stroke="#000" stroke-width="3"/>
<line x1="1899.5" y1="1652.3" x2="1899.5" y2="1670" stroke="#000" stroke-width="3"/>
<line x1="1951.6" y1="1652.3" x2="1951.6" y2="1670" stroke="#000" stroke-width="3"/>
<line x1="2003.6" y1="1652.3" x2="2003.6" y2="1670" stroke="#000" stroke-width="3"/>
<line x1="2055.7" y1="1652.3" x2="2055.7" y2="1670" stroke="#000" stroke-width="3"/>
<line x1="2107.8" y1="1652.3" x2="2107.8" y2="1670" stroke="#000" stroke-width="3"/>
<text transform="translate(182.40,1184.10) scale(1,1.05)" font-family="'Liberation Sans',Arial,sans-serif" font-size="62" text-anchor="end" fill="#000" letter-spacing="-0.4">3</text>
<text transform="translate(182.40,1265.05) scale(1,1.05)" font-family="'Liberation Sans',Arial,sans-serif" font-size="62" text-anchor="end" fill="#000" letter-spacing="-0.4">2.5</text>
<text transform="translate(182.40,1346.00) scale(1,1.05)" font-family="'Liberation Sans',Arial,sans-serif" font-size="62" text-anchor="end" fill="#000" letter-spacing="-0.4">2</text>
<text transform="translate(182.40,1426.95) scale(1,1.05)" font-family="'Liberation Sans',Arial,sans-serif" font-size="62" text-anchor="end" fill="#000" letter-spacing="-0.4">1.5</text>
<text transform="translate(182.40,1507.90) scale(1,1.05)" font-family="'Liberation Sans',Arial,sans-serif" font-size="62" text-anchor="end" fill="#000" letter-spacing="-0.4">1</text>
<text transform="translate(182.40,1588.85) scale(1,1.05)" font-family="'Liberation Sans',Arial,sans-serif" font-size="62" text-anchor="end" fill="#000" letter-spacing="-0.4">0.5</text>
<text transform="translate(182.40,1669.80) scale(1,1.05)" font-family="'Liberation Sans',Arial,sans-serif" font-size="62" text-anchor="end" fill="#000" letter-spacing="-0.4">0</text>
<text transform="translate(182.40,1750.75) scale(1,1.05)" font-family="'Liberation Sans',Arial,sans-serif" font-size="62" text-anchor="end" fill="#000" letter-spacing="-0.4">-0.5</text>
<text transform="translate(182.40,1831.70) scale(1,1.05)" font-family="'Liberation Sans',Arial,sans-serif" font-size="62" text-anchor="end" fill="#000" letter-spacing="-0.4">-1</text>
<text transform="translate(182.40,1912.65) scale(1,1.05)" font-family="'Liberation Sans',Arial,sans-serif" font-size="62" text-anchor="end" fill="#000" letter-spacing="-0.4">-1.5</text>
<text transform="translate(58.10,1543.90) rotate(-90) scale(1,1.05)" font-family="'Liberation Sans',Arial,sans-serif" font-size="62" text-anchor="middle" fill="#000" letter-spacing="-0.95">Oceanic Niño Index</text>
<text transform="translate(266.12,1935.00) rotate(-90) scale(1,1.05)" font-family="'Liberation Sans',Arial,sans-serif" font-size="62" text-anchor="end" fill="#595959" letter-spacing="-1.6">Jan-14</text>
<text transform="translate(318.18,1935.00) rotate(-90) scale(1,1.05)" font-family="'Liberation Sans',Arial,sans-serif" font-size="62" text-anchor="end" fill="#595959" letter-spacing="-1.6">Mar-14</text>
<text transform="translate(370.24,1935.00) rotate(-90) scale(1,1.05)" font-family="'Liberation Sans',Arial,sans-serif" font-size="62" text-anchor="end" fill="#595959" letter-spacing="-1.6">May-14</text>
<text transform="translate(422.29,1935.00) rotate(-90) scale(1,1.05)" font-family="'Liberation Sans',Arial,sans-serif" font-size="62" text-anchor="end" fill="#595959" letter-spacing="-1.6">Jul-14</text>
<text transform="translate(474.36,1935.00) rotate(-90) scale(1,1.05)" font-family="'Liberation Sans',Arial,sans-serif" font-size="62" text-anchor="end" fill="#595959" letter-spacing="-1.6">Sep-14</text>
<text transform="translate(526.41,1935.00) rotate(-90) scale(1,1.05)" font-family="'Liberation Sans',Arial,sans-serif" font-size="62" text-anchor="end" fill="#595959" letter-spacing="-1.6">Nov-14</text>
<text transform="translate(578.48,1935.00) rotate(-90) scale(1,1.05)" font-family="'Liberation Sans',Arial,sans-serif" font-size="62" text-anchor="end" fill="#595959" letter-spacing="-1.6">Jan-15</text>
<text transform="translate(630.53,1935.00) rotate(-90) scale(1,1.05)" font-family="'Liberation Sans',Arial,sans-serif" font-size="62" text-anchor="end" fill="#595959" letter-spacing="-1.6">Mar-15</text>
<text transform="translate(682.60,1935.00) rotate(-90) scale(1,1.05)" font-family="'Liberation Sans',Arial,sans-serif" font-size="62" text-anchor="end" fill="#595959" letter-spacing="-1.6">May-15</text>
<text transform="translate(734.65,1935.00) rotate(-90) scale(1,1.05)" font-family="'Liberation Sans',Arial,sans-serif" font-size="62" text-anchor="end" fill="#595959" letter-spacing="-1.6">Jul-15</text>
<text transform="translate(786.72,1935.00) rotate(-90) scale(1,1.05)" font-family="'Liberation Sans',Arial,sans-serif" font-size="62" text-anchor="end" fill="#595959" letter-spacing="-1.6">Sep-15</text>
<text transform="translate(838.78,1935.00) rotate(-90) scale(1,1.05)" font-family="'Liberation Sans',Arial,sans-serif" font-size="62" text-anchor="end" fill="#595959" letter-spacing="-1.6">Nov-15</text>
<text transform="translate(890.84,1935.00) rotate(-90) scale(1,1.05)" font-family="'Liberation Sans',Arial,sans-serif" font-size="62" text-anchor="end" fill="#595959" letter-spacing="-1.6">Jan-16</text>
<text transform="translate(942.90,1935.00) rotate(-90) scale(1,1.05)" font-family="'Liberation Sans',Arial,sans-serif" font-size="62" text-anchor="end" fill="#595959" letter-spacing="-1.6">Mar-16</text>
<text transform="translate(994.96,1935.00) rotate(-90) scale(1,1.05)" font-family="'Liberation Sans',Arial,sans-serif" font-size="62" text-anchor="end" fill="#595959" letter-spacing="-1.6">May-16</text>
<text transform="translate(1047.02,1935.00) rotate(-90) scale(1,1.05)" font-family="'Liberation Sans',Arial,sans-serif" font-size="62" text-anchor="end" fill="#595959" letter-spacing="-1.6">Jul-16</text>
<text transform="translate(1099.08,1935.00) rotate(-90) scale(1,1.05)" font-family="'Liberation Sans',Arial,sans-serif" font-size="62" text-anchor="end" fill="#595959" letter-spacing="-1.6">Sep-16</text>
<text transform="translate(1151.13,1935.00) rotate(-90) scale(1,1.05)" font-family="'Liberation Sans',Arial,sans-serif" font-size="62" text-anchor="end" fill="#595959" letter-spacing="-1.6">Nov-16</text>
<text transform="translate(1203.19,1935.00) rotate(-90) scale(1,1.05)" font-family="'Liberation Sans',Arial,sans-serif" font-size="62" text-anchor="end" fill="#595959" letter-spacing="-1.6">Jan-17</text>
<text transform="translate(1255.26,1935.00) rotate(-90) scale(1,1.05)" font-family="'Liberation Sans',Arial,sans-serif" font-size="62" text-anchor="end" fill="#595959" letter-spacing="-1.6">Mar-17</text>
<text transform="translate(1307.32,1935.00) rotate(-90) scale(1,1.05)" font-family="'Liberation Sans',Arial,sans-serif" font-size="62" text-anchor="end" fill="#595959" letter-spacing="-1.6">May-17</text>
<text transform="translate(1359.38,1935.00) rotate(-90) scale(1,1.05)" font-family="'Liberation Sans',Arial,sans-serif" font-size="62" text-anchor="end" fill="#595959" letter-spacing="-1.6">Jul-17</text>
<text transform="translate(1411.43,1935.00) rotate(-90) scale(1,1.05)" font-family="'Liberation Sans',Arial,sans-serif" font-size="62" text-anchor="end" fill="#595959" letter-spacing="-1.6">Sep-17</text>
<text transform="translate(1463.49,1935.00) rotate(-90) scale(1,1.05)" font-family="'Liberation Sans',Arial,sans-serif" font-size="62" text-anchor="end" fill="#595959" letter-spacing="-1.6">Nov-17</text>
<text transform="translate(1515.56,1935.00) rotate(-90) scale(1,1.05)" font-family="'Liberation Sans',Arial,sans-serif" font-size="62" text-anchor="end" fill="#595959" letter-spacing="-1.6">Jan-18</text>
<text transform="translate(1567.62,1935.00) rotate(-90) scale(1,1.05)" font-family="'Liberation Sans',Arial,sans-serif" font-size="62" text-anchor="end" fill="#595959" letter-spacing="-1.6">Mar-18</text>
<text transform="translate(1619.67,1935.00) rotate(-90) scale(1,1.05)" font-family="'Liberation Sans',Arial,sans-serif" font-size="62" text-anchor="end" fill="#595959" letter-spacing="-1.6">May-18</text>
<text transform="translate(1671.73,1935.00) rotate(-90) scale(1,1.05)" font-family="'Liberation Sans',Arial,sans-serif" font-size="62" text-anchor="end" fill="#595959" letter-spacing="-1.6">Jul-18</text>
<text transform="translate(1723.80,1935.00) rotate(-90) scale(1,1.05)" font-family="'Liberation Sans',Arial,sans-serif" font-size="62" text-anchor="end" fill="#595959" letter-spacing="-1.6">Sep-18</text>
<text transform="translate(1775.86,1935.00) rotate(-90) scale(1,1.05)" font-family="'Liberation Sans',Arial,sans-serif" font-size="62" text-anchor="end" fill="#595959" letter-spacing="-1.6">Nov-18</text>
<text transform="translate(1827.91,1935.00) rotate(-90) scale(1,1.05)" font-family="'Liberation Sans',Arial,sans-serif" font-size="62" text-anchor="end" fill="#595959" letter-spacing="-1.6">Jan-19</text>
<text transform="translate(1879.97,1935.00) rotate(-90) scale(1,1.05)" font-family="'Liberation Sans',Arial,sans-serif" font-size="62" text-anchor="end" fill="#595959" letter-spacing="-1.6">Mar-19</text>
<text transform="translate(1932.04,1935.00) rotate(-90) scale(1,1.05)" font-family="'Liberation Sans',Arial,sans-serif" font-size="62" text-anchor="end" fill="#595959" letter-spacing="-1.6">May-19</text>
<text transform="translate(1984.10,1935.00) rotate(-90) scale(1,1.05)" font-family="'Liberation Sans',Arial,sans-serif" font-size="62" text-anchor="end" fill="#595959" letter-spacing="-1.6">Jul-19</text>
<text transform="translate(2036.15,1935.00) rotate(-90) scale(1,1.05)" font-family="'Liberation Sans',Arial,sans-serif" font-size="62" text-anchor="end" fill="#595959" letter-spacing="-1.6">Sep-19</text>
<text transform="translate(2088.22,1935.00) rotate(-90) scale(1,1.05)" font-family="'Liberation Sans',Arial,sans-serif" font-size="62" text-anchor="end" fill="#595959" letter-spacing="-1.6">Nov-19</text>
</svg></body></html>
